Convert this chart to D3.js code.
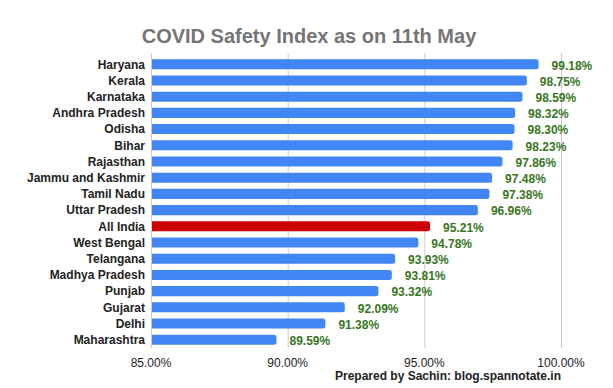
<!DOCTYPE html>
<html>
<head>
<meta charset="utf-8">
<script src="https://cdn.jsdelivr.net/npm/d3@7"></script>
<style>
  body { margin: 0; background: #fff; }
  text { font-family: Arial, "Liberation Sans", sans-serif; }
</style>
</head>
<body>
<svg width="613" height="388"></svg>
<script>
// data
var states = ["Haryana", "Kerala", "Karnataka", "Andhra Pradesh", "Odisha", "Bihar",
  "Rajasthan", "Jammu and Kashmir", "Tamil Nadu", "Uttar Pradesh", "All India",
  "West Bengal", "Telangana", "Madhya Pradesh", "Punjab", "Gujarat", "Delhi", "Maharashtra"];
var safety = [99.18, 98.75, 98.59, 98.32, 98.30, 98.23, 97.86, 97.48, 97.38, 96.96, 95.21,
  94.78, 93.93, 93.81, 93.32, 92.09, 91.38, 89.59];
var ticks = [85, 90, 95, 100];

var svg = d3.select("svg"),
    width = 613,
    height = 388

var x = d3.scaleLinear()
    .domain([85, 100])
    .range([151, 561])

var y = d3.scaleBand()
    .domain(states)
    .range([56, 348])
    .paddingInner(0.38)
    .paddingOuter(0.2)

// title
svg.append("text")
    .attr("x", 309)
    .attr("y", 43)
    .attr("text-anchor", "middle")
    .attr("font-size", 20)
    .attr("font-weight", "bold")
    .attr("fill", "#757575")
    .text("COVID Safety Index as on 11th May")

// gridlines
svg.append("g")
    .selectAll("line")
    .data(ticks)
    .enter()
    .append("line")
      .attr("x1", d => x(d) + 0.5)
      .attr("x2", d => x(d) + 0.5)
      .attr("y1", 53)
      .attr("y2", 348)
      .attr("stroke", "#cccccc")
      .attr("stroke-width", 1)

// tick labels
svg.append("g")
    .selectAll("text")
    .data(ticks)
    .enter()
    .append("text")
      .attr("x", d => x(d))
      .attr("y", 367)
      .attr("text-anchor", "middle")
      .attr("font-size", 12)
      .attr("fill", "#222")
      .text(d => d.toFixed(2) + "%")

var rows = states.map((s, i) => ({ name: s, value: safety[i] }));

// bars with rounded right end
var r = 2.5;
svg.append("g")
    .selectAll("path")
    .data(rows)
    .enter()
    .append("path")
      .attr("d", function(d) {
        var x0 = x(85) + 1, x1 = x(d.value), y0 = y(d.name), h = y.bandwidth();
        return "M" + x0 + "," + y0 +
          "H" + (x1 - r) +
          "Q" + x1 + "," + y0 + " " + x1 + "," + (y0 + r) +
          "V" + (y0 + h - r) +
          "Q" + x1 + "," + (y0 + h) + " " + (x1 - r) + "," + (y0 + h) +
          "H" + x0 + "Z";
      })
      .attr("fill", d => d.name == "All India" ? "#cc0000" : "#4285f4")

// category labels
svg.append("g")
    .selectAll("text")
    .data(rows)
    .enter()
    .append("text")
      .attr("x", 145)
      .attr("y", d => y(d.name) + y.bandwidth() / 2)
      .attr("dy", "0.36em")
      .attr("text-anchor", "end")
      .attr("font-size", 12)
      .attr("font-weight", "bold")
      .attr("fill", "#222")
      .text(d => d.name)

// value labels
svg.append("g")
    .selectAll("text")
    .data(rows)
    .enter()
    .append("text")
      .attr("x", d => x(d.value) + 13)
      .attr("y", d => y(d.name) + y.bandwidth() / 2 + 1)
      .attr("dy", "0.36em")
      .attr("font-family", "Roboto, sans-serif")
      .attr("font-size", 12)
      .attr("font-weight", "bold")
      .attr("fill", "#38761d")
      .text(d => d.value.toFixed(2) + "%")

// credit
svg.append("text")
    .attr("x", 561)
    .attr("y", 380)
    .attr("text-anchor", "end")
    .attr("font-size", 12)
    .attr("font-weight", "bold")
    .attr("fill", "#222")
    .text("Prepared by Sachin: blog.spannotate.in")
</script>
</body>
</html>
